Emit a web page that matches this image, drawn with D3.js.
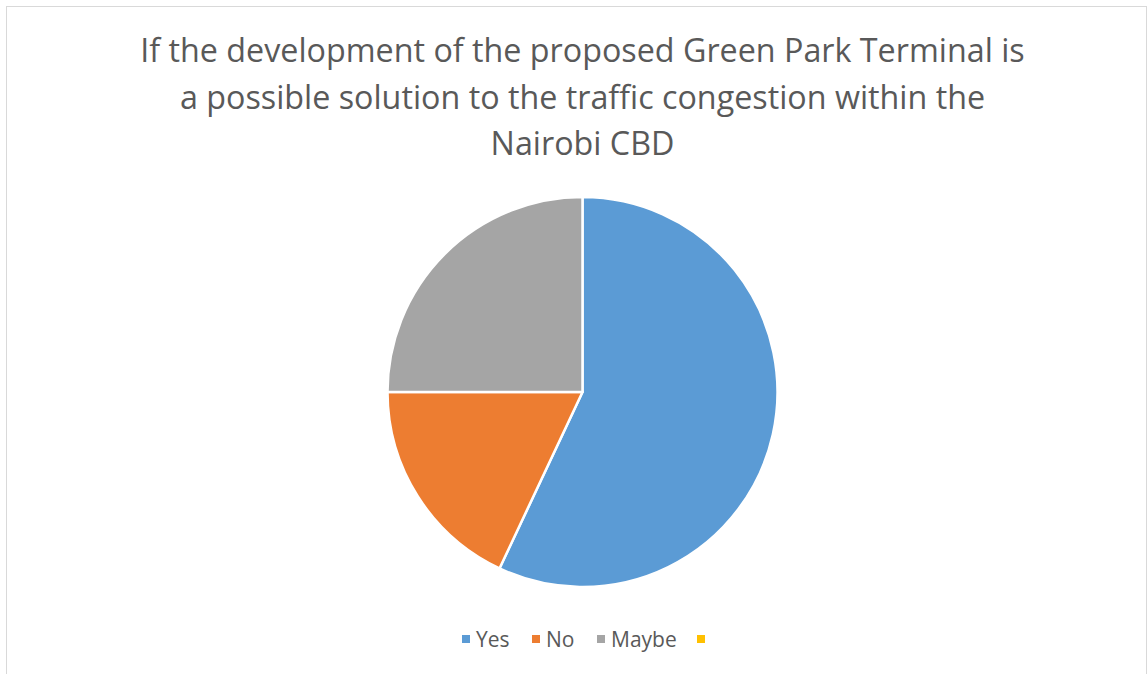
<!DOCTYPE html>
<html>
<head>
<meta charset="utf-8">
<script src="https://cdn.jsdelivr.net/npm/d3@7"></script>
<style>
  html, body { margin: 0; padding: 0; background: #fff; }
  svg { display: block; }
</style>
</head>
<body>
<svg id="chart" width="1147" height="674"></svg>
<script>
// Survey responses
const categories = ["Yes", "No", "Maybe", ""];
const values = [57, 18, 25, 0];
const colors = ["#5B9BD5", "#ED7D31", "#A5A5A5", "#FFC000"];
const titleLines = [
  "If the development of the proposed Green Park Terminal is",
  "a possible solution to the traffic congestion within the",
  "Nairobi CBD"
];

const W = 1147, H = 674;
const svg = d3.select("#chart");
const font = "'Open Sans', 'Noto Sans', sans-serif";

// chart frame
svg.append("rect")
  .attr("x", 6.5).attr("y", 6.5)
  .attr("width", 1140).attr("height", 700)
  .attr("fill", "#fff")
  .attr("stroke", "#d9d9d9").attr("stroke-width", 1);

// title
const title = svg.append("g").attr("fill", "#595959")
  .attr("font-family", font).attr("text-anchor", "middle");
const baselines = [62, 109, 155];
const tl = title.selectAll("text").data(titleLines).join("text")
  .attr("x", 582.5).attr("y", (d, i) => baselines[i])
  .attr("font-size", 32)
  .text(d => d);
// fit first line width to 885px
const w0 = tl.nodes()[0].getComputedTextLength();
tl.attr("font-size", 32 * 885 / w0);

// pie
const cx = 582.5, cy = 392, r = 195;
const pie = d3.pie().sort(null).value(d => d.value);
const arc = d3.arc().innerRadius(0).outerRadius(r);
const data = categories.map((c, i) => ({ name: c, value: values[i], color: colors[i] }));
svg.append("g").attr("transform", `translate(${cx},${cy})`)
  .selectAll("path").data(pie(data).filter(d => d.data.value > 0)).join("path")
  .attr("d", arc)
  .attr("fill", d => d.data.color)
  .attr("stroke", "#fff").attr("stroke-width", 2.5)
  .attr("stroke-linejoin", "round");

// legend
const legendX = [462, 532, 597, 697];
const legend = svg.append("g").attr("font-family", font);
const items = legend.selectAll("g").data(data).join("g")
  .attr("transform", (d, i) => `translate(${legendX[i]},0)`);
items.append("rect")
  .attr("x", 0).attr("y", 635).attr("width", 8).attr("height", 8)
  .attr("fill", d => d.color);
items.append("text")
  .attr("x", 14).attr("y", 647)
  .attr("font-size", 21).attr("fill", "#595959")
  .text(d => d.name);
</script>
</body>
</html>
